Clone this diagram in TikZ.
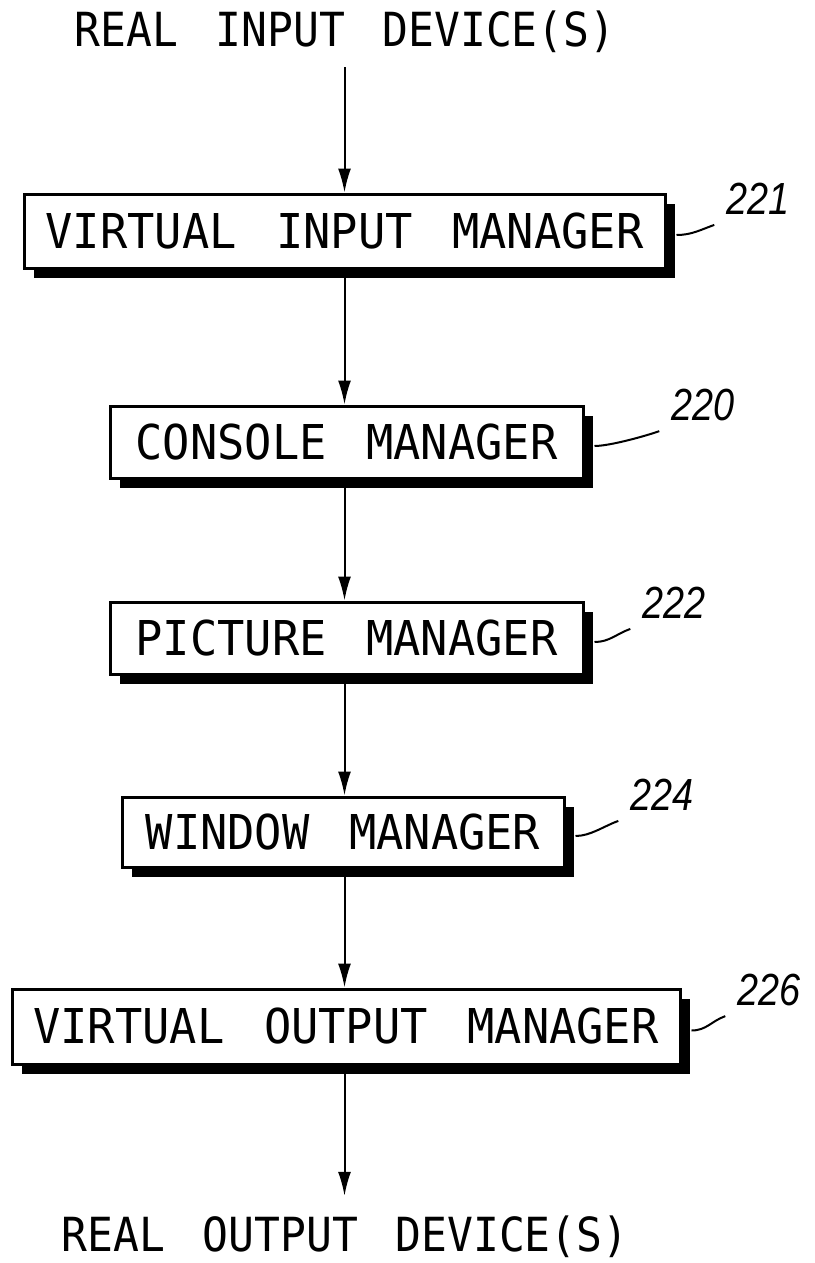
\documentclass[tikz,border=0pt]{standalone}
\usepackage{fontspec}
\usetikzlibrary{arrows.meta,shadows,calc}
\newfontfamily\boxfont[FakeStretch=0.945,WordSpace=1.45]{DejaVu Sans Mono}
\newfontfamily\ttlfont[FakeStretch=0.915,WordSpace=1.45]{DejaVu Sans Mono}
\newfontfamily\numfont[FakeStretch=0.84]{Liberation Sans Italic}
\tikzset{
  mgr/.style={draw, line width=3pt, fill=white, inner sep=0pt,
    drop shadow={shadow xshift=10pt, shadow yshift=-10pt, fill=black, opacity=1},
    font=\boxfont\fontsize{48}{50}\selectfont},
  ttl/.style={inner sep=0pt, font=\ttlfont\fontsize{47}{50}\selectfont},
  ref/.style={inner sep=0pt, font=\numfont\fontsize{45}{46}\selectfont},
  arr/.style={line width=2pt, -{Latex[length=24pt,width=13pt]}},
  lead/.style={line width=2pt}
}
\begin{document}
\begin{tikzpicture}[x=1pt,y=-1pt]
\useasboundingbox (0,0) rectangle (814,1263);
% titles
\node[ttl] (t1) at (345,32) {REAL INPUT DEVICE(S)};
\node[ttl] (t2) at (345,1237) {REAL OUTPUT DEVICE(S)};
% boxes
\node[mgr, minimum width=641pt, minimum height=74pt] (b1) at (344.5,231) {VIRTUAL INPUT MANAGER};
\node[mgr, minimum width=473pt, minimum height=72pt] (b2) at (346.5,442) {CONSOLE MANAGER};
\node[mgr, minimum width=473pt, minimum height=72pt] (b3) at (346.5,638) {PICTURE MANAGER};
\node[mgr, minimum width=442pt, minimum height=70pt] (b4) at (343,832) {WINDOW MANAGER};
\node[mgr, minimum width=668pt, minimum height=75pt] (b5) at (346,1026.5) {VIRTUAL OUTPUT MANAGER};
% reference numerals
\node[ref] (l1) at (758,199) {221};
\node[ref] (l2) at (703,405) {220};
\node[ref] (l3) at (674,603) {222};
\node[ref] (l4) at (662,795) {224};
\node[ref] (l5) at (769,990) {226};
% arrows
\coordinate (a0) at ([yshift=-14pt]t1.south -| b1.north);
\draw[arr] (a0) -- (b1.north);
\draw[arr] (b1.south) -- (b1.south |- b2.north);
\draw[arr] (b1.south |- b2.south) -- (b1.south |- b3.north);
\draw[arr] (b1.south |- b3.south) -- (b1.south |- b4.north);
\draw[arr] (b1.south |- b4.south) -- (b1.south |- b5.north);
\draw[arr, shorten >=20pt] (b1.south |- b5.south) -- (b1.south |- t2.north);
% leaders
\foreach \b/\l in {b1/l1,b2/l2,b3/l3,b4/l4,b5/l5}{
  \draw[lead] ([xshift=10pt,yshift=-4pt]\b.east) .. controls +(15,0) and +(-14,5) .. ([xshift=-12pt,yshift=-10pt]\l.south west);
}
\end{tikzpicture}
\end{document}
